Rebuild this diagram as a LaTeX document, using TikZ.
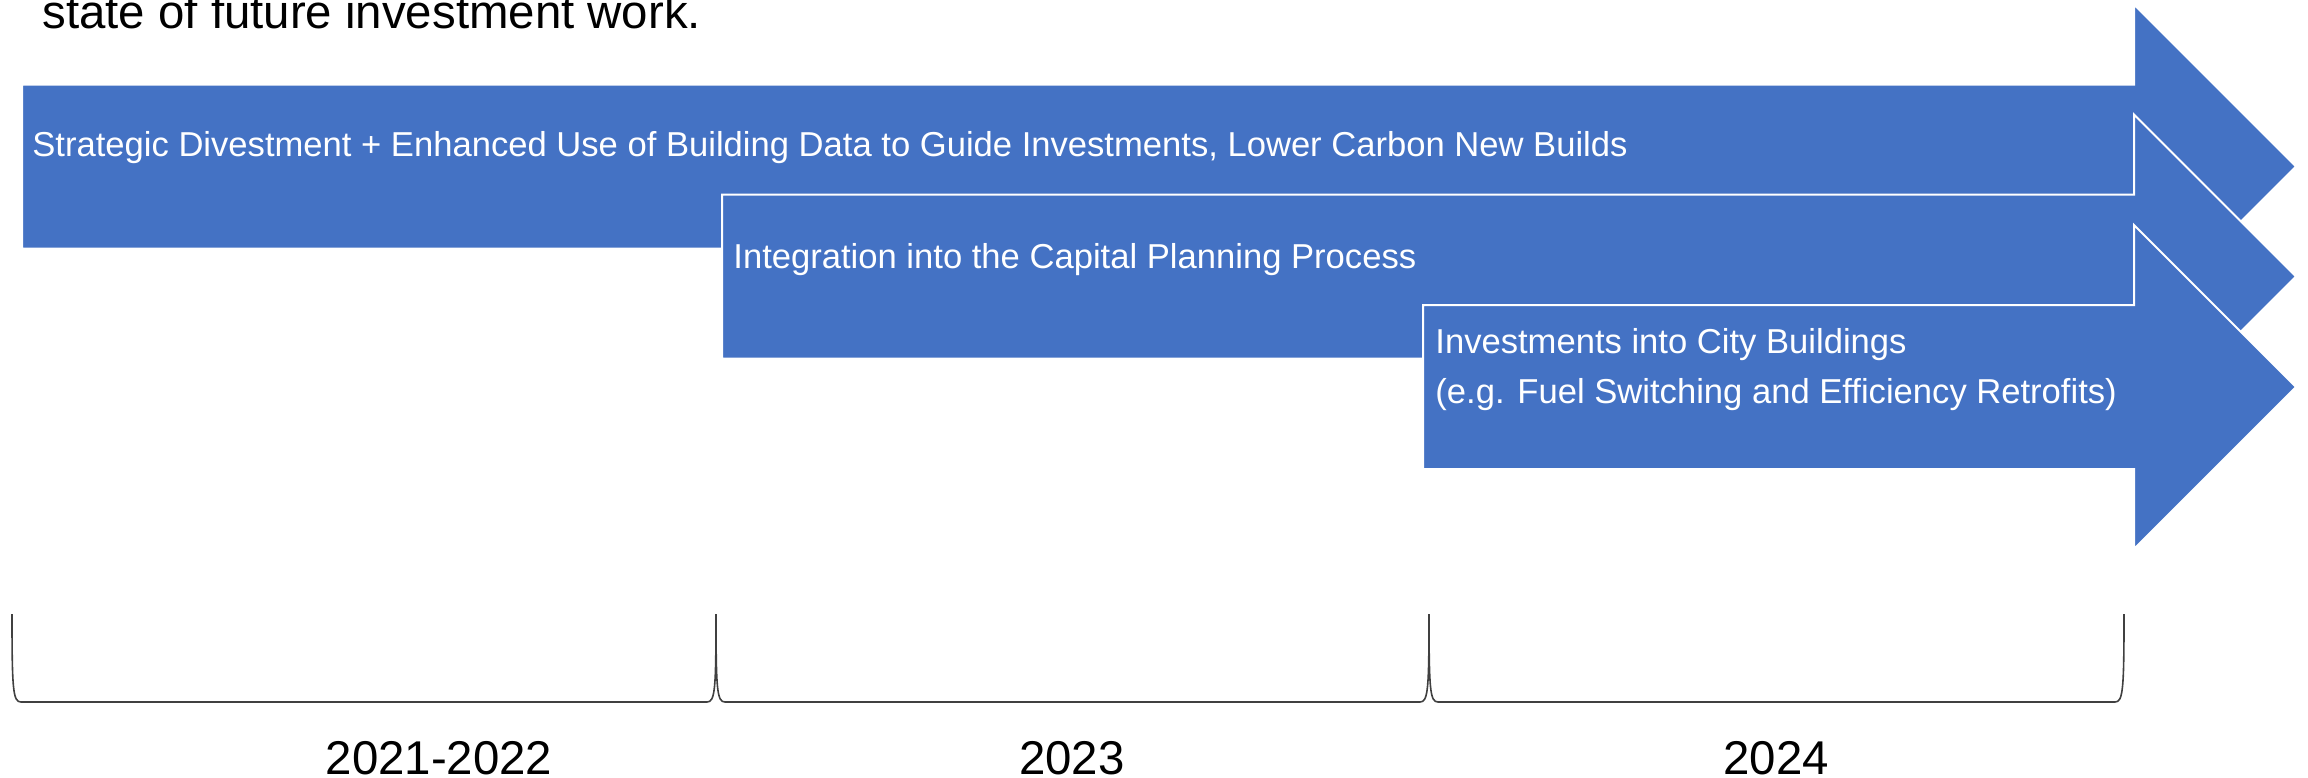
\documentclass[tikz,border=0pt]{standalone}
\usepackage{fontspec}
\setmainfont{Liberation Sans}
\usepackage{tikz}
\usetikzlibrary{calc}
\definecolor{phaseblue}{HTML}{4472C4}
\newcommand{\phasearrow}[2]{%
  \draw[phase] (#1,{#2-82}) -- (2134,{#2-82}) -- (2134,{#2-162}) -- (2296,#2)
    -- (2134,{#2+162}) -- (2134,{#2+82}) -- (#1,{#2+82}) -- cycle;}

\begin{document}
\begin{tikzpicture}[x=0.5pt,y=-0.5pt,
  phase/.style={fill=phaseblue,draw=white,line width=1pt},
  phasetext/.style={text=white,anchor=base west,inner sep=0pt,align=left,font=\fontsize{17.3}{25}\selectfont},
  yeartext/.style={anchor=base,inner sep=0pt,font=\fontsize{23.7}{28}\selectfont},
  span/.style={draw=black!75,line width=0.8pt}]
\useasboundingbox (0,0) rectangle (2308,777);
\clip (0,0) rectangle (2308,777);
\node[yeartext,anchor=base west] (intro) at (42,28) {state of future investment work.};
\phasearrow{22}{166.5}
\node[phasetext] (divest) at (32,156) {Strategic Divestment + Enhanced Use of Building Data to Guide Investments, Lower Carbon New Builds};
\phasearrow{722}{276.5}
\node[phasetext] (capital) at (733,268) {Integration into the Capital Planning Process};
\phasearrow{1423}{387}
\node[phasetext] (invest) at (1435,403) {Investments into City Buildings\\(e.g. Fuel Switching and Efficiency Retrofits)};
\foreach \a/\b in {12/716,716/1429,1429/2124}
  \draw[span] (\a,614) .. controls (\a,690) and (\a+1,702) .. (\a+9,702) -- (\b-9,702) .. controls (\b-1,702) and (\b,690) .. (\b,614);
\node[yeartext] (early) at (439,774) {2021-2022};
\node[yeartext] (mid) at (1072,774) {2023};
\node[yeartext] (late) at (1776,774) {2024};
\end{tikzpicture}
\end{document}
